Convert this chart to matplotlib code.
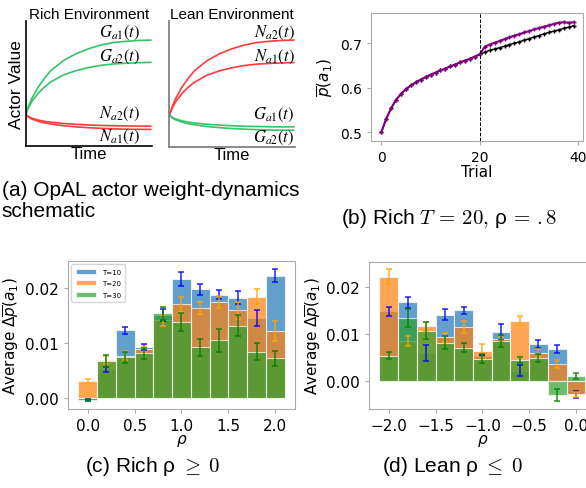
import numpy as np
import matplotlib
matplotlib.use("Agg")
import matplotlib.pyplot as plt

# ---- data ----
# schematic (a): normalised actor values sampled over time
t_sch = [0, 0.02, 0.05, 0.1, 0.15, 0.2, 0.3, 0.4, 0.5, 0.6, 0.7, 0.8, 0.9, 1.0]
hi1 = [25, 31, 38, 47, 54, 60, 68, 73.5, 77.5, 80.5, 82.5, 83.5, 84.2, 84.5]
hi2 = [25, 30, 35.5, 42, 47, 51, 56.5, 60, 62.5, 64.3, 65.4, 66, 66.4, 66.7]
lo1 = [25, 23.5, 22, 20.5, 19.5, 18.8, 17.8, 17.1, 16.6, 16.2, 16, 15.8, 15.7, 15.7]
lo2 = [25, 23, 21.3, 19.5, 18.3, 17.4, 16, 15.1, 14.4, 13.9, 13.5, 13.2, 13.1, 13.0]

# (b) mean p(a1) per trial
trials = list(range(40))
p_shared = [0.500, 0.530, 0.554, 0.573, 0.586, 0.597, 0.605, 0.612, 0.618, 0.624,
            0.629, 0.634, 0.639, 0.643, 0.648, 0.652, 0.657, 0.661, 0.665, 0.670, 0.675]
p_purple_after = [0.692, 0.697, 0.701, 0.705, 0.709, 0.713, 0.717, 0.720, 0.724, 0.727,
                  0.731, 0.734, 0.737, 0.740, 0.743, 0.746, 0.747, 0.746, 0.747]
p_black_after = [0.680, 0.684, 0.687, 0.690, 0.693, 0.697, 0.700, 0.703, 0.707, 0.710,
                 0.714, 0.717, 0.721, 0.724, 0.727, 0.730, 0.733, 0.736, 0.739]

# (c) rich
rho_rich = [0.0, 0.2, 0.4, 0.6, 0.8, 1.0, 1.2, 1.4, 1.6, 1.8, 2.0]
rich_t10 = [-0.0004, 0.0052, 0.0123, 0.0093, 0.0151, 0.0216, 0.0198, 0.0188, 0.0182, 0.0145, 0.0222]
rich_t10_err = [0.0002, 0.0004, 0.0006, 0.0005, 0.0011, 0.0013, 0.0010, 0.0009, 0.0012, 0.0014, 0.0012]
rich_t20 = [0.0030, 0.0069, 0.0077, 0.0089, 0.0141, 0.0170, 0.0164, 0.0175, 0.0159, 0.0184, 0.0121]
rich_t20_err = [0.0004, 0.0007, 0.0008, 0.0006, 0.0010, 0.0013, 0.0011, 0.0011, 0.0015, 0.0014, 0.0018]
rich_t30 = [-0.0003, 0.0068, 0.0074, 0.0081, 0.0154, 0.0138, 0.0092, 0.0105, 0.0131, 0.0084, 0.0072]
rich_t30_err = [0.0002, 0.0011, 0.0010, 0.0010, 0.0012, 0.0017, 0.0015, 0.0021, 0.0019, 0.0015, 0.0014]

# (d) lean
rho_lean = [-2.0, -1.8, -1.6, -1.4, -1.2, -1.0, -0.8, -0.6, -0.4, -0.2, 0.0]
lean_t10 = [0.0149, 0.0168, 0.0060, 0.0142, 0.0151, 0.0055, 0.0105, 0.0023, 0.0079, 0.0069, -0.0028]
lean_t10_err = [0.0010, 0.0011, 0.0017, 0.0012, 0.0008, 0.0002, 0.0017, 0.0011, 0.0008, 0.0008, 0.0008]
lean_t20 = [0.0223, 0.0086, 0.0117, 0.0094, 0.0116, 0.0065, 0.0090, 0.0129, 0.0060, 0.0037, -0.0028]
lean_t20_err = [0.0016, 0.0010, 0.0010, 0.0010, 0.0013, 0.0014, 0.0005, 0.0011, 0.0008, 0.0009, 0.0005]
lean_t30 = [0.0055, 0.0135, 0.0108, 0.0082, 0.0072, 0.0048, 0.0086, 0.0045, 0.0050, -0.0030, 0.0011]
lean_t30_err = [0.0008, 0.0020, 0.0018, 0.0014, 0.0010, 0.0010, 0.0012, 0.0007, 0.0009, 0.0013, 0.0007]

labels_T = ["T=10", "T=20", "T=30"]

GREEN = "#33c46a"
RED = "#ff3b3b"
SANS = "Liberation Sans"

fig = plt.figure(figsize=(5.86, 4.89), dpi=100)


def schematic(rect, title, top_col, low_col, top_labels, low_labels, spine_col, ylabel):
    ax = fig.add_axes(rect)
    ax.plot(t_sch, hi1, color=top_col, lw=1.2)
    ax.plot(t_sch, hi2, color=top_col, lw=1.2)
    ax.plot(t_sch, lo1, color=low_col, lw=1.2)
    ax.plot(t_sch, lo2, color=low_col, lw=1.2)
    ax.set_xlim(0, 1.01)
    ax.set_ylim(0, 100)
    ax.set_xticks([])
    ax.set_yticks([])
    for s in ["top", "right"]:
        ax.spines[s].set_visible(False)
    for s in ["left", "bottom"]:
        ax.spines[s].set_color(spine_col)
        ax.spines[s].set_linewidth(1.2)
    ax.set_title(title, fontsize=11, family=SANS, pad=2)
    ax.set_xlabel("Time", fontsize=12, family=SANS, labelpad=0)
    if ylabel:
        ax.set_ylabel("Actor Value", fontsize=12.5, family=SANS, labelpad=1)
    xs = 0.75 if ylabel else 0.84
    kw = dict(ha="center", va="center", fontsize=12, math_fontfamily="stix")
    ax.text(xs, 91, top_labels[0], **kw)
    ax.text(xs, 72, top_labels[1], **kw)
    ax.text(xs, 26, low_labels[0], **kw)
    ax.text(xs, 8, low_labels[1], **kw)
    return ax


schematic([0.0439, 0.700, 0.2155, 0.2556], "Rich Environment", GREEN, RED,
          [r"$G_{a1}(t)$", r"$G_{a2}(t)$"], [r"$N_{a2}(t)$", r"$N_{a1}(t)$"], "black", True)
schematic([0.289, 0.698, 0.2145, 0.258], "Lean Environment", RED, GREEN,
          [r"$N_{a2}(t)$", r"$N_{a1}(t)$"], [r"$G_{a1}(t)$", r"$G_{a2}(t)$"], "#777777", False)


def frame(ax, size=11):
    for s in ax.spines.values():
        s.set_color("#aaaaaa")
    ax.tick_params(labelsize=size, length=3, color="#aaaaaa")


# (b)
axb = fig.add_axes([0.633, 0.7102, 0.3613, 0.2605])
axb.plot(trials, p_shared + p_black_after, color="black", lw=1, marker="+", ms=3.5, mew=1)
axb.plot(trials, p_shared + p_purple_after, color="purple", lw=1.5, marker="+", ms=3.5, mew=1)
axb.axvline(20, color="black", ls="--", lw=0.7)
axb.set_xlim(-2.1, 40.85)
axb.set_ylim(0.481, 0.767)
axb.set_xticks([0, 20, 40])
axb.set_yticks([0.5, 0.6, 0.7])
axb.set_xlabel("Trial", fontsize=11, labelpad=0)
axb.set_ylabel(r"$\overline{p}(a_1)$", fontsize=11, labelpad=3)
frame(axb, 10)


def bars(ax, x, series, errs):
    cols = ["tab:blue", "tab:orange", "tab:green"]
    ecols = ["blue", "orange", "green"]
    for y, lab, c in zip(series, labels_T, cols):
        ax.bar(x, y, width=0.2, color=c, alpha=0.7, edgecolor="white", linewidth=0.8, label=lab)
    for y, e, c in zip(series, errs, ecols):
        ax.errorbar(x, y, yerr=e, fmt="none", ecolor=c, elinewidth=1.2, capsize=2.5,
                    capthick=1.2, alpha=0.8)
    ax.set_xticks([-2.0, -1.5, -1.0, -0.5, 0.0, 0.5, 1.0, 1.5, 2.0])
    ax.set_yticks([0.0, 0.01, 0.02])
    ax.set_yticklabels(["0.00", "0.01", "0.02"])
    ax.set_xlabel(r"$\rho$", fontsize=11, labelpad=-1)
    ax.set_ylabel(r"Average $\Delta\overline{p}(a_1)$", fontsize=11, labelpad=2)
    frame(ax)


axc = fig.add_axes([0.116, 0.1616, 0.3874, 0.3027])
bars(axc, rho_rich, [rich_t10, rich_t20, rich_t30], [rich_t10_err, rich_t20_err, rich_t30_err])
axc.set_xlim(-0.21, 2.21)
axc.set_ylim(-0.002, 0.0249)
axc.legend(loc="upper left", fontsize=5, handlelength=3, borderpad=0.6, labelspacing=0.8)

axd = fig.add_axes([0.630, 0.1616, 0.3863, 0.3012])
bars(axd, rho_lean, [lean_t10, lean_t20, lean_t30], [lean_t10_err, lean_t20_err, lean_t30_err])
axd.set_xlim(-2.21, 0.21)
axd.set_ylim(-0.0059, 0.0255)

# captions
cap = dict(fontsize=15, family=SANS, math_fontfamily="cm", va="center")
fig.text(0.003, 1 - 190 / 489, "(a) OpAL actor weight-dynamics", **cap)
fig.text(0.003, 1 - 212 / 489, "schematic", **cap)
fig.text(449 / 586, 1 - 218 / 489, r"(b) Rich $T\,=\,20,\,$ρ$\,=\,.8$", ha="center", **cap)
fig.text(153 / 586, 1 - 467 / 489, r"(c) Rich ρ $\geq\;0$", ha="center", **cap)
fig.text(453 / 586, 1 - 467 / 489, r"(d) Lean ρ $\leq\;0$", ha="center", **cap)

fig.savefig("out.png", dpi=100)
